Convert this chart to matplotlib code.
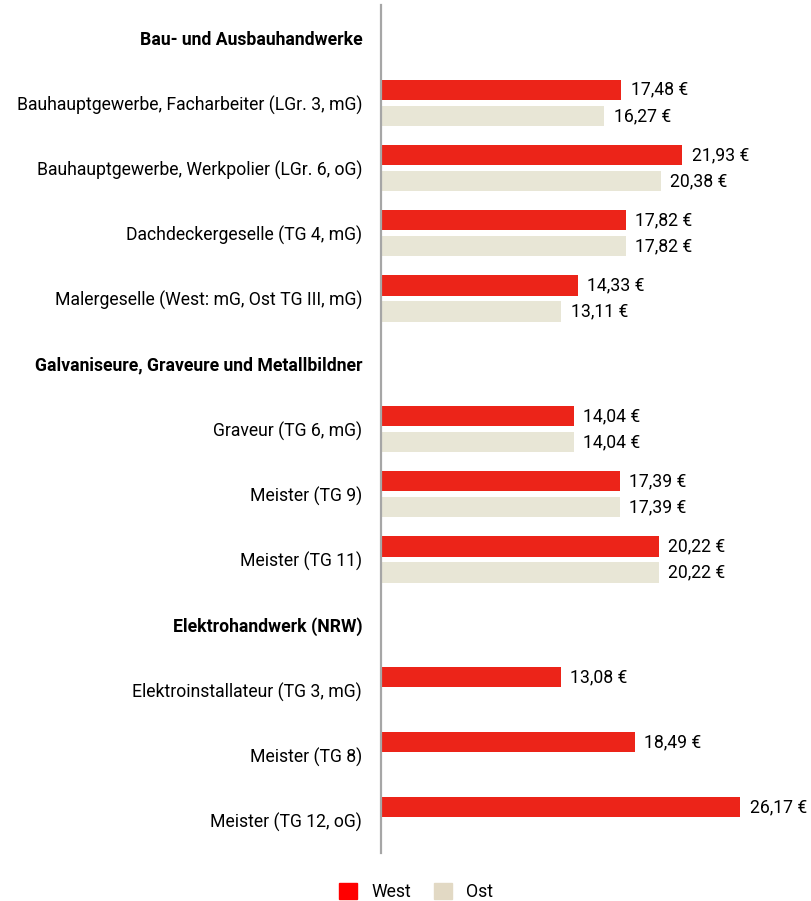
import numpy as np
import matplotlib.pyplot as plt
from matplotlib.patches import Patch

plt.rcParams['font.family'] = ['Liberation Sans Narrow', 'Roboto', 'DejaVu Sans']

# rows from top to bottom; header rows have None values
labels = ["Bau- und Ausbauhandwerke",
          "Bauhauptgewerbe, Facharbeiter (LGr. 3, mG)",
          "Bauhauptgewerbe, Werkpolier (LGr. 6, oG)",
          "Dachdeckergeselle (TG 4, mG)",
          "Malergeselle (West: mG, Ost TG III, mG)",
          "Galvaniseure, Graveure und Metallbildner",
          "Graveur (TG 6, mG)",
          "Meister (TG 9)",
          "Meister (TG 11)",
          "Elektrohandwerk (NRW)",
          "Elektroinstallateur (TG 3, mG)",
          "Meister (TG 8)",
          "Meister (TG 12, oG)"]
is_header = [True, False, False, False, False, True, False, False, False, True, False, False, False]
west = [None, 17.48, 21.93, 17.82, 14.33, None, 14.04, 17.39, 20.22, None, 13.08, 18.49, 26.17]
ost = [None, 16.27, 20.38, 17.82, 13.11, None, 14.04, 17.39, 20.22, None, None, None, None]

c_west = "#ec2419"
c_ost = "#e8e6d6"
fs = 12.7

fig = plt.figure(figsize=(8.11, 9.01), dpi=100)
ax = fig.add_axes([381 / 811, 48 / 901, 430 / 811, 848 / 901])

y = np.arange(len(labels))
bh = 0.31
off = 0.20

for i in range(len(labels)):
    if west[i] is not None:
        ax.barh(i - off, west[i], height=bh, color=c_west)
        ax.text(west[i] + 0.7, i - off, f"{west[i]:.2f} €".replace(".", ","),
                va="center", ha="left", fontsize=fs)
    if ost[i] is not None:
        ax.barh(i + off, ost[i], height=bh, color=c_ost)
        ax.text(ost[i] + 0.7, i + off, f"{ost[i]:.2f} €".replace(".", ","),
                va="center", ha="left", fontsize=fs)

ax.set_xlim(0, 430 / 13.73)
ax.set_ylim(len(labels) - 0.5, -0.5)
ax.set_yticks(y)
ax.set_yticklabels(labels, fontsize=fs)
for t, h in zip(ax.get_yticklabels(), is_header):
    if h:
        t.set_fontweight("bold")
ax.tick_params(axis="y", length=0, pad=13.5)
ax.set_xticks([])
for s in ["top", "right", "bottom"]:
    ax.spines[s].set_visible(False)
ax.spines["left"].set_color("#a6a6a6")
ax.spines["left"].set_linewidth(1.6)

handles = [Patch(color="#ff0000", label="West"), Patch(color="#e2d9c4", label="Ost")]
fig.legend(handles=handles, loc="lower center", bbox_to_anchor=(0.513, -0.018), ncol=2,
           frameon=False, fontsize=fs, handlelength=1.0, handleheight=1.0,
           columnspacing=1.3, handletextpad=0.8)

fig.savefig("out.png", dpi=100)
